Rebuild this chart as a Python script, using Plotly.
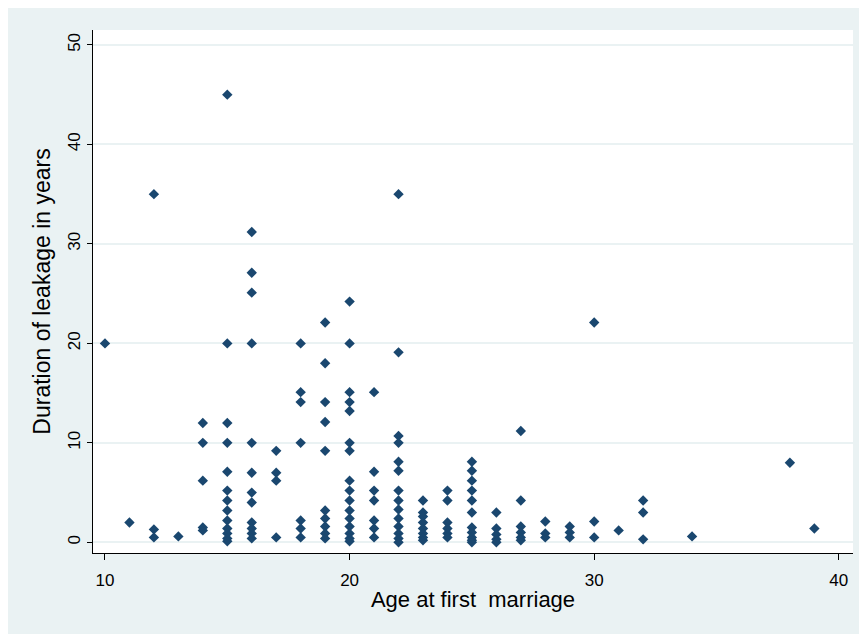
import plotly.graph_objects as go

# Age at first marriage (x) and duration of leakage in years (y)
age_at_marriage = (
    [10] + [11] + [12] * 3 + [13] + [14] * 5 + [15] * 13 + [16] * 12 + [17] * 4
    + [18] * 7 + [19] * 10 + [20] * 16 + [21] * 7 + [22] * 14 + [23] * 8 + [24] * 6
    + [25] * 11 + [26] * 5 + [27] * 6 + [28] * 3 + [29] * 3 + [30] * 3 + [31]
    + [32] * 3 + [34] + [38] + [39]
)
leakage_years = [
    20,                                              # 10
    2,                                               # 11
    35, 1.3, 0.5,                                    # 12
    0.6,                                             # 13
    12, 10, 6.2, 1.5, 1.2,                           # 14
    45, 20, 12, 10, 7.1, 5.2, 4.2, 3.2, 2.2, 1.4, 0.9, 0.4, 0.1,  # 15
    31.2, 27.1, 25.1, 20, 10, 7, 5, 4, 2, 1.4, 0.9, 0.4,         # 16
    9.2, 7, 6.2, 0.5,                                # 17
    20, 15.1, 14.1, 10, 2.2, 1.4, 0.5,               # 18
    22.1, 18, 14.1, 12.1, 9.2, 3.2, 2.4, 1.6, 0.9, 0.4,          # 19
    24.2, 20, 15.1, 14.1, 13.2, 10, 9.2, 6.2, 5.2, 4.2, 3.2, 2.4, 1.6, 0.9, 0.4, 0.1,  # 20
    15.1, 7.1, 5.2, 4.2, 2.2, 1.4, 0.5,              # 21
    35, 19.1, 10.7, 10, 8.1, 7.2, 5.2, 4.2, 3.3, 2.4, 1.6, 0.9, 0.4, 0,  # 22
    4.2, 3, 2.6, 2, 1.4, 0.9, 0.5, 0.2,              # 23
    5.2, 4.2, 2, 1.4, 0.9, 0.5,                      # 24
    8.1, 7.2, 6.2, 5.2, 4.2, 3, 1.5, 1, 0.5, 0.2, 0, # 25
    3, 1.4, 0.8, 0.3, 0,                             # 26
    11.2, 4.2, 1.6, 1, 0.5, 0.2,                     # 27
    2.1, 0.9, 0.5,                                   # 28
    1.6, 1, 0.5,                                     # 29
    22.1, 2.1, 0.5,                                  # 30
    1.2,                                             # 31
    4.2, 3, 0.3,                                     # 32
    0.6,                                             # 34
    8,                                               # 38
    1.4,                                             # 39
]

x_ticks = [10, 20, 30, 40]
y_ticks = [0, 10, 20, 30, 40, 50]
x_title = "Age at first  marriage"
y_title = "Duration of leakage in years"

BG = "#EAF2F3"
MARKER = "#1A476F"
FONT = "Liberation Sans, Arial, sans-serif"

# page body adds an 8px margin, so the figure is sized to fit the window
W, H = 859, 626
ML, MR, MT, MB = 85, 14, 22, 81

fig = go.Figure(
    go.Scatter(
        x=age_at_marriage,
        y=leakage_years,
        mode="markers",
        marker=dict(symbol="diamond", size=8, color=MARKER, line=dict(width=0)),
        hoverinfo="x+y",
    )
)

fig.update_layout(
    width=W,
    height=H,
    margin=dict(l=ML, r=MR, t=MT, b=MB, pad=0),
    paper_bgcolor=BG,
    plot_bgcolor="white",
    showlegend=False,
    font=dict(family=FONT, color="#000000", size=17),
)

fig.update_xaxes(
    range=[9.51, 40.58],
    tickvals=x_ticks,
    ticks="outside",
    ticklen=6,
    tickcolor="#000000",
    showline=True,
    linecolor="#000000",
    linewidth=1,
    showgrid=False,
    zeroline=False,
    tickfont=dict(size=17),
    ticklabelstandoff=6,
    title=dict(text=x_title, font=dict(size=22), standoff=2),
)
fig.update_yaxes(
    range=[-1.07, 51.5],
    tickvals=y_ticks,
    ticks="outside",
    ticklen=5,
    tickcolor="#000000",
    tickangle=-90,
    showline=True,
    linecolor="#000000",
    linewidth=1,
    showgrid=True,
    gridcolor=BG,
    gridwidth=1.5,
    zeroline=False,
    tickfont=dict(size=17),
    title=dict(text=y_title, font=dict(size=23), standoff=8),
)

fig.write_html("out.html")
